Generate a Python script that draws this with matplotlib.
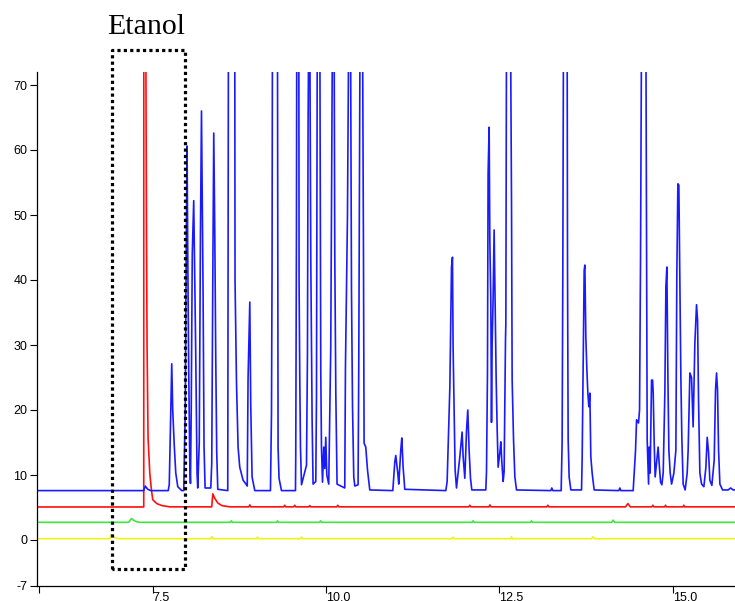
import matplotlib.pyplot as plt

# --- Data (time in min, signal) ---
# blue trace vertices
blue_x = [5.83, 7.370, 7.392, 7.428, 7.471, 7.723, 7.738, 7.760, 7.774, 7.788, 7.810, 7.832, 7.861, 7.918,
          7.947, 7.969, 7.983, 7.995, 8.005, 8.019, 8.034, 8.044, 8.055, 8.070, 8.091, 8.106, 8.120, 8.139,
          8.149, 8.171, 8.188, 8.203, 8.217, 8.226, 8.240, 8.255, 8.337, 8.351, 8.366, 8.380, 8.395, 8.409,
          8.423, 8.438, 8.582, 8.592, 8.683, 8.687, 8.708, 8.731, 8.755, 8.803, 8.852, 8.863, 8.875, 8.900,
          8.914, 8.933, 8.972, 9.198, 9.213, 9.221, 9.227, 9.299, 9.304, 9.308, 9.322, 9.357, 9.559, 9.563,
          9.573, 9.578, 9.607, 9.611, 9.621, 9.631, 9.646, 9.718, 9.732, 9.741, 9.751, 9.765, 9.780, 9.799,
          9.813, 9.852, 9.862, 9.874, 9.910, 9.924, 9.934, 9.949, 9.967, 9.982, 9.996, 10.011, 10.039, 10.068,
          10.093, 10.116, 10.126, 10.141, 10.159, 10.270, 10.280, 10.309, 10.328, 10.353, 10.367, 10.382,
          10.400, 10.415, 10.462, 10.472, 10.491, 10.526, 10.540, 10.549, 10.573, 10.598, 10.631, 10.963,
          10.992, 11.006, 11.035, 11.049, 11.078, 11.093, 11.112, 11.136, 11.728, 11.747, 11.786, 11.810,
          11.824, 11.833, 11.848, 11.862, 11.882, 11.930, 11.963, 11.978, 12.002, 12.027, 12.045, 12.064,
          12.084, 12.103, 12.305, 12.315, 12.329, 12.338, 12.353, 12.363, 12.377, 12.387, 12.396, 12.410,
          12.425, 12.439, 12.454, 12.468, 12.483, 12.507, 12.522, 12.536, 12.555, 12.569, 12.589, 12.594,
          12.604, 12.661, 12.676, 12.685, 12.705, 12.724, 12.748, 13.243, 13.257, 13.272, 13.392, 13.406,
          13.416, 13.426, 13.478, 13.484, 13.493, 13.507, 13.532, 13.686, 13.695, 13.709, 13.724, 13.734,
          13.748, 13.763, 13.777, 13.791, 13.806, 13.820, 13.839, 13.868, 14.224, 14.239, 14.253, 14.431,
          14.465, 14.480, 14.508, 14.523, 14.537, 14.552, 14.614, 14.624, 14.633, 14.653, 14.662, 14.676,
          14.696, 14.711, 14.720, 14.734, 14.748, 14.768, 14.791, 14.806, 14.826, 14.845, 14.864, 14.888,
          14.903, 14.917, 14.932, 14.946, 14.965, 14.985, 15.018, 15.047, 15.061, 15.076, 15.090, 15.104,
          15.119, 15.133, 15.152, 15.181, 15.210, 15.224, 15.249, 15.273, 15.296, 15.321, 15.345, 15.360,
          15.374, 15.393, 15.418, 15.451, 15.480, 15.499, 15.519, 15.537, 15.566, 15.600, 15.619, 15.634,
          15.648, 15.663, 15.682, 15.721, 15.801, 15.836, 15.874, 15.9]
blue_y = [7.6, 7.6, 8.3, 7.8, 7.6, 7.6, 8.5, 20.3, 27.1, 20.0, 14.6, 10.3, 8.2, 7.6,
          7.6, 20.0, 45.0, 60.6, 44.0, 26.0, 12.0, 8.7, 20.0, 44.0, 52.2, 40.0, 28.7, 10.3,
          8.0, 15.0, 47.0, 66.0, 48.2, 38.0, 14.3, 8.0, 8.0, 11.8, 40.0, 62.6, 47.2, 27.7,
          13.4, 7.8, 7.6, 80, 80, 40.0, 24.2, 14.3, 11.2, 9.2, 8.5, 8.3, 24.9, 36.6,
          20.5, 9.7, 7.6, 7.6, 19.5, 41.5, 80, 80, 43.5, 14.2, 9.5, 7.6, 7.6, 13.0,
          47.0, 80, 80, 39.5, 25.0, 14.3, 8.5, 11.5, 28.8, 64.0, 80, 80, 43.0, 18.5,
          8.6, 9.0, 21.8, 80, 80, 26.0, 14.3, 8.9, 14.3, 11.0, 15.8, 10.0, 8.6, 29.7,
          80, 80, 44.0, 22.6, 8.6, 8.0, 26.6, 49.7, 80, 80, 38.5, 20.5,
          9.7, 8.3, 8.5, 26.6, 80, 80, 44.0, 14.9, 14.3, 10.8, 7.7, 7.6,
          12.0, 13.0, 10.3, 8.6, 13.8, 15.7, 11.2, 7.8, 7.6, 9.0, 23.4, 42.0,
          43.5, 29.7, 20.0, 10.8, 8.0, 12.8, 16.6, 12.8, 9.5, 16.9, 20.0, 13.8,
          9.5, 7.7, 7.7, 10.5, 25.7, 56.4, 63.5, 46.0, 37.0, 18.1, 30.0, 37.0,
          47.7, 36.4, 25.0, 17.4, 11.2, 13.4, 15.1, 12.0, 9.0, 10.5, 30.8, 33.4,
          80, 80, 51.3, 24.6, 15.4, 9.7, 7.7, 7.6, 8.0, 7.6, 7.6, 15.0,
          41.5, 80, 80, 41.0, 15.4, 9.7, 7.7, 7.7, 12.5, 26.6, 41.5, 42.3,
          31.2, 26.2, 22.6, 20.5, 22.6, 12.8, 10.3, 7.7, 7.6, 8.0, 7.6, 7.6,
          13.8, 18.5, 18.0, 20.0, 43.0, 80, 80, 44.6, 15.4, 8.6, 14.3, 10.3,
          24.6, 24.6, 22.6, 15.0, 9.7, 11.8, 14.3, 11.8, 8.9, 8.5, 10.3, 22.6,
          39.0, 42.0, 25.0, 13.8, 10.3, 8.6, 10.3, 13.8, 41.0, 54.8, 54.6, 41.0,
          25.0, 15.8, 8.6, 7.7, 10.3, 13.8, 25.7, 25.0, 17.4, 30.3, 36.2, 33.8,
          21.5, 10.3, 8.6, 8.2, 11.2, 15.8, 13.4, 9.2, 8.4, 12.3, 23.1, 25.7,
          23.0, 13.8, 8.6, 7.7, 7.7, 8.0, 7.7, 7.7]

# red trace vertices
red_x = [5.83, 7.370, 7.371, 7.399, 7.409, 7.418, 7.432, 7.457, 7.481, 7.500, 7.558, 7.630, 7.745,
         8.351, 8.366, 8.395, 8.438, 8.495, 8.611, 8.885, 8.900, 8.915, 9.390, 9.404, 9.418,
         9.535, 9.549, 9.563, 9.751, 9.765, 9.779, 10.155, 10.169, 10.183, 12.060, 12.074, 12.090,
         12.350, 12.363, 12.380, 13.185, 13.200, 13.215, 14.320, 14.354, 14.390, 14.700, 14.715,
         14.730, 14.885, 14.898, 14.910, 15.150, 15.162, 15.175, 15.9]
red_y = [5.08, 5.08, 80, 80, 48.8, 29.7, 15.8, 10.3, 7.7, 6.2, 5.6, 5.3, 5.1,
         5.1, 7.1, 6.4, 5.7, 5.3, 5.1, 5.1, 5.4, 5.1, 5.1, 5.35, 5.1,
         5.1, 5.35, 5.1, 5.1, 5.3, 5.1, 5.1, 5.35, 5.1, 5.1, 5.35, 5.1,
         5.1, 5.4, 5.1, 5.1, 5.35, 5.1, 5.1, 5.6, 5.1, 5.1, 5.35,
         5.1, 5.1, 5.35, 5.1, 5.1, 5.35, 5.1, 5.1]

# green trace vertices
green_x = [5.83, 7.153, 7.192, 7.230, 7.270, 7.320, 8.620, 8.635, 8.650, 9.285, 9.299, 9.313,
           9.905, 9.920, 9.935, 12.107, 12.122, 12.137, 12.950, 12.964, 12.980, 14.120, 14.142,
           14.165, 15.9]
green_y = [2.72, 2.72, 3.3, 3.0, 2.8, 2.72, 2.72, 2.95, 2.72, 2.72, 2.95, 2.72,
           2.72, 2.95, 2.72, 2.72, 2.95, 2.72, 2.72, 2.95, 2.72, 2.72, 3.05,
           2.72, 2.72]

# yellow trace vertices
yellow_x = [5.83, 6.880, 6.904, 6.950, 7.000, 8.336, 8.351, 8.366, 8.996, 9.011, 9.026,
            9.630, 9.645, 9.660, 11.818, 11.833, 11.848, 12.661, 12.676, 12.691, 13.830, 13.853,
            13.876, 15.9]
yellow_y = [0.2, 0.2, 0.85, 0.35, 0.2, 0.2, 0.5, 0.2, 0.2, 0.45, 0.2,
            0.2, 0.45, 0.2, 0.2, 0.45, 0.2, 0.2, 0.5, 0.2, 0.2, 0.5,
            0.2, 0.2]

y_ticks = [-7, 0, 10, 20, 30, 40, 50, 60, 70]
x_ticks = [5.86, 7.5, 10.0, 12.5, 15.0]
x_tick_labels = ['', '7.5', '10.0', '12.5', '15.0']

# Ethanol window drawn around the peak
box_x = [6.908, 6.908, 7.962, 7.962, 6.908]
box_y = [-4.46, 75.4, 75.4, -4.46, -4.46]

# --- Plotting ---
fig = plt.figure(figsize=(7.35, 6.01), dpi=100)
ax = fig.add_axes([37 / 735, 15.5 / 601, 698 / 735, 513.5 / 601])

ax.plot(yellow_x, yellow_y, color='#f2f21a', lw=1.2)
ax.plot(green_x, green_y, color='#3ee63e', lw=1.2)
ax.plot(red_x, red_y, color='#ff1010', lw=1.2)
ax.plot(blue_x, blue_y, color='#1a1aff', lw=1.2)

ax.plot(box_x, box_y, color='black', lw=2.3, linestyle=(0, (1, 1)),
        dash_capstyle='butt', clip_on=False)

ax.set_xlim(5.83, 15.9)
ax.set_ylim(-7, 72)

ax.set_yticks(y_ticks)
ax.set_yticklabels([str(t) for t in y_ticks])
ax.set_xticks(x_ticks)
ax.set_xticklabels(x_tick_labels)
for lbl in ax.get_xticklabels():
    lbl.set_horizontalalignment('left')

ax.tick_params(direction='out', length=5, width=0.8, labelsize=9, pad=2)
ax.tick_params(axis='x', pad=0)
for lbl in ax.get_xticklabels() + ax.get_yticklabels():
    lbl.set_family('Liberation Sans')

ax.spines['top'].set_visible(False)
ax.spines['right'].set_visible(False)
ax.spines['left'].set_linewidth(0.9)
ax.spines['bottom'].set_linewidth(0.9)

fig.text(146 / 735, 1 - 34 / 601, 'Etanol', family='Liberation Serif',
         fontsize=21.5, ha='center', va='baseline')

fig.savefig('out.png', dpi=100)
